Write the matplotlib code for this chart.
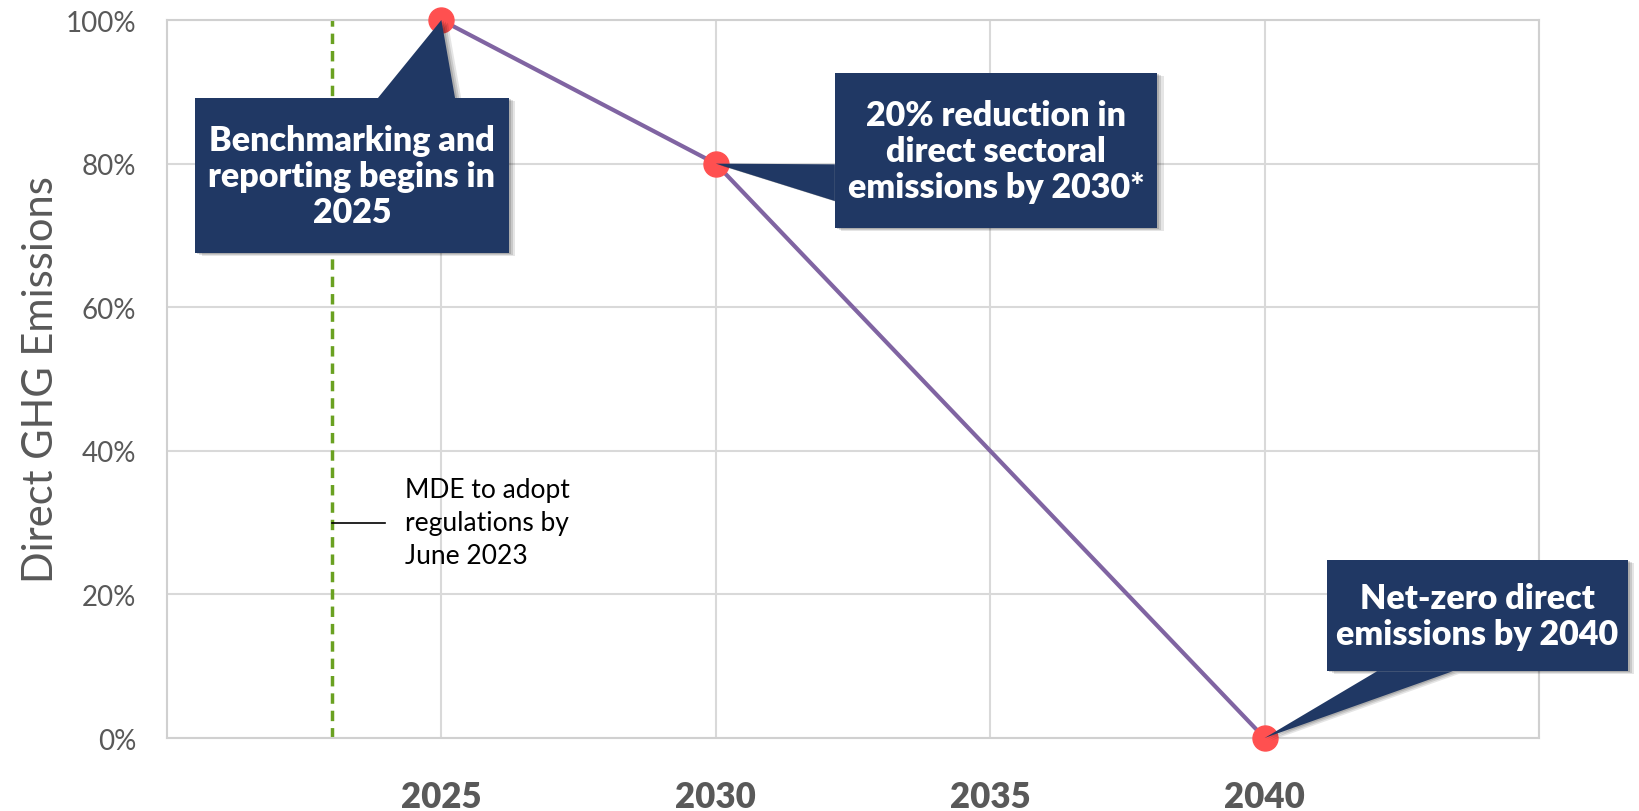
import numpy as np
import matplotlib.pyplot as plt
from matplotlib.patches import Polygon
from matplotlib.ticker import PercentFormatter

# data
years = [2025, 2030, 2040]
emissions = [1.0, 0.8, 0.0]
x_ticks = [2025, 2030, 2035, 2040]
y_ticks = [0, 0.2, 0.4, 0.6, 0.8, 1.0]
regulation_year = 2023

navy = '#203864'
purple = '#8064A2'
red = '#FF5050'
green = '#6AA121'
grey = '#595959'
font = ['Lato', 'DejaVu Sans']

fig = plt.figure(figsize=(16.4, 8.12), dpi=100)
ax = fig.add_axes([0.1018, 0.0899, 0.8366, 0.8842])

ax.set_xlim(2020, 2045)
ax.set_ylim(0, 1.0)

# grid and frame
ax.set_xticks(x_ticks)
ax.set_yticks(y_ticks)
ax.set_xticks([2045], minor=True)
ax.grid(True, which='both', color='#D9D9D9', linewidth=1.5)
ax.set_axisbelow(True)
for spine in ax.spines.values():
    spine.set_color('#D0D0D0')
    spine.set_linewidth(1.5)
ax.tick_params(which='both', length=0)
ax.tick_params(axis='y', pad=22, labelsize=20, labelcolor=grey)
ax.tick_params(axis='x', pad=30, labelsize=25, labelcolor=grey)
ax.yaxis.set_major_formatter(PercentFormatter(1.0, decimals=0))
for lbl in ax.get_xticklabels():
    lbl.set_fontweight('heavy')
    lbl.set_family(font)
for lbl in ax.get_yticklabels():
    lbl.set_family(font)
ax.set_ylabel('Direct GHG Emissions', fontsize=30, color=grey, family=font)
ax.yaxis.set_label_coords(-0.078, 0.5)

# regulation line
ax.axvline(regulation_year, color=green, linestyle=(0, (3, 2)), linewidth=2.5, zorder=2)
ax.plot([regulation_year, regulation_year + 0.97], [0.30, 0.30], color='black', linewidth=1.2)
ax.text(regulation_year + 1.34, 0.30, 'MDE to adopt\nregulations by\nJune 2023', fontsize=19,
        family=font, ha='left', va='center', linespacing=1.4)

# trajectory
ax.plot(years, emissions, color=purple, linewidth=3, zorder=3)
ax.plot(years, emissions, 'o', color=red, markersize=18, zorder=4, clip_on=False)

# callouts: box (x0, x1, y0, y1), pointer base points, pointer tip
callouts = [
    dict(box=(2020.51, 2026.23, 0.675, 0.891), base=[(2023.84, 0.891), (2025.25, 0.891)],
         tip=(2025, 1.0), text='Benchmarking and\nreporting begins in\n2025'),
    dict(box=(2032.17, 2038.04, 0.710, 0.926), base=[(2032.17, 0.799), (2032.17, 0.748)],
         tip=(2030, 0.8), text='20% reduction in\ndirect sectoral\nemissions by 2030*'),
    dict(box=(2041.14, 2046.62, 0.093, 0.248), base=[(2042.05, 0.093), (2043.43, 0.093)],
         tip=(2040, 0.0), text='Net-zero direct\nemissions by 2040'),
]

for c in callouts:
    x0, x1, y0, y1 = c['box']
    rect = [(x0, y0), (x1, y0), (x1, y1), (x0, y1)]
    tri = [c['base'][0], c['tip'], c['base'][1]]
    # soft shadow
    for k, a in [(0.12, 0.10), (0.08, 0.12), (0.04, 0.15)]:
        dx, dy = k, -k * 0.03
        for shape in (rect, tri):
            ax.add_patch(Polygon([(px + dx, py + dy) for px, py in shape], closed=True,
                                 facecolor='black', edgecolor='none', alpha=a,
                                 zorder=5, clip_on=False))
    for shape in (rect, tri):
        ax.add_patch(Polygon(shape, closed=True, facecolor=navy, edgecolor='none',
                             zorder=6, clip_on=False))
    ax.text((x0 + x1) / 2, (y0 + y1) / 2, c['text'], color='white', fontsize=24.5,
            fontweight='heavy', family=font, ha='center', va='center',
            linespacing=1.15, zorder=7)

fig.savefig('out.png', dpi=100)
